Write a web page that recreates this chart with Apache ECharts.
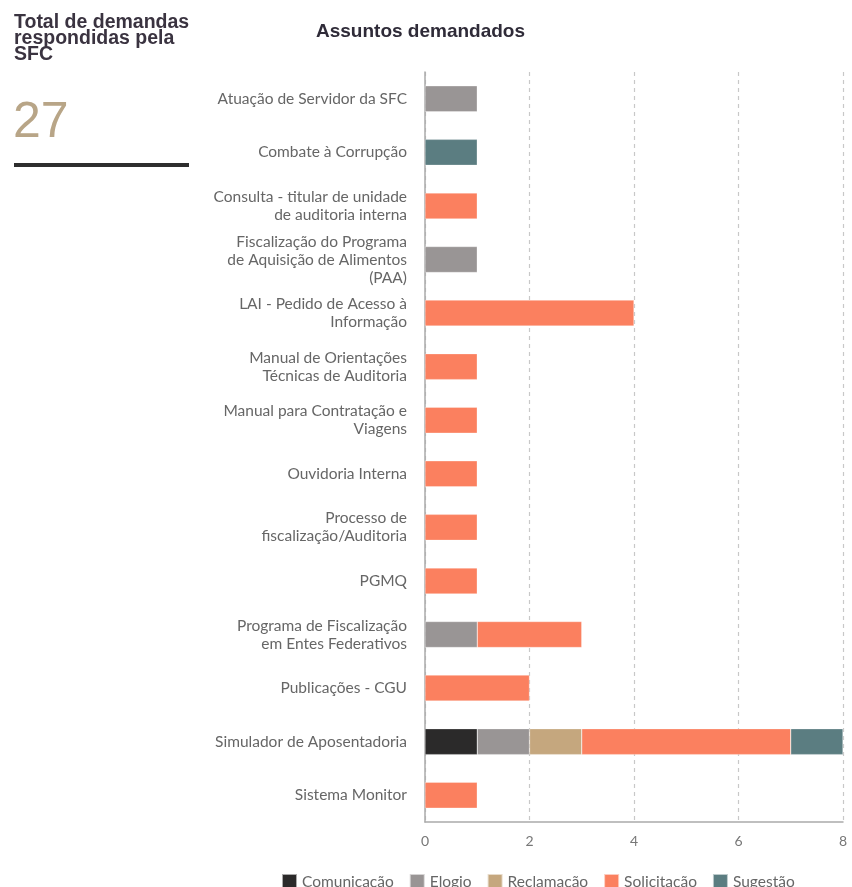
<!DOCTYPE html>
<html>
<head>
<meta charset="utf-8">
<script src="https://cdn.jsdelivr.net/npm/echarts@6/dist/echarts.min.js"></script>
<style>
  html, body { margin: 0; padding: 0; background: #fff; }
  #chart { width: 852px; height: 887px; }
</style>
</head>
<body>
<div id="chart"></div>
<script>
// Subjects (top to bottom)
const categories = [
  'Atuação de Servidor da SFC',
  'Combate à Corrupção',
  'Consulta - titular de unidade\nde auditoria interna',
  'Fiscalização do Programa\nde Aquisição de Alimentos\n(PAA)',
  'LAI - Pedido de Acesso à\nInformação',
  'Manual de Orientações\nTécnicas de Auditoria',
  'Manual para Contratação e\nViagens',
  'Ouvidoria Interna',
  'Processo de\nfiscalização/Auditoria',
  'PGMQ',
  'Programa de Fiscalização\nem Entes Federativos',
  'Publicações - CGU',
  'Simulador de Aposentadoria',
  'Sistema Monitor'
];

// Demand counts per type, one value per subject
const comunicacao = [0, 0, 0, 0, 0, 0, 0, 0, 0, 0, 0, 0, 1, 0];
const elogio      = [1, 0, 0, 1, 0, 0, 0, 0, 0, 0, 1, 0, 1, 0];
const reclamacao  = [0, 0, 0, 0, 0, 0, 0, 0, 0, 0, 0, 0, 1, 0];
const solicitacao = [0, 0, 1, 0, 4, 1, 1, 1, 1, 1, 2, 2, 4, 1];
const sugestao    = [0, 1, 0, 0, 0, 0, 0, 0, 0, 0, 0, 0, 1, 0];

const seriesNames = ['Comunicação', 'Elogio', 'Reclamação', 'Solicitação', 'Sugestão'];
const seriesData = [comunicacao, elogio, reclamacao, solicitacao, sugestao];
const colors = ['#2b2a2a', '#999595', '#c5a77e', '#fb805f', '#5b7d81'];

const total = seriesData.reduce((s, arr) => s + arr.reduce((a, b) => a + b, 0), 0);

const chart = echarts.init(document.getElementById('chart'), null, { renderer: 'canvas' });

chart.setOption({
  animation: false,
  color: colors,
  title: {
    text: 'Assuntos demandados',
    left: 311,
    top: 17,
    textStyle: {
      fontFamily: 'Liberation Sans',
      fontWeight: 'bold',
      fontSize: 19,
      color: '#2f2b38'
    }
  },
  graphic: [
    {
      type: 'text',
      left: 14,
      top: 13,
      style: {
        text: 'Total de demandas\nrespondidas pela\nSFC',
        font: 'bold 19.5px "Liberation Sans"',
        lineHeight: 16,
        fill: '#3a3340'
      }
    },
    {
      type: 'text',
      left: 13,
      top: 98,
      style: {
        text: String(total),
        font: '50px "Liberation Sans"',
        fill: '#b8a587'
      }
    },
    {
      type: 'rect',
      shape: { x: 14, y: 163, width: 175, height: 4 },
      style: { fill: '#2e2e2e' }
    }
  ],
  legend: {
    data: seriesNames,
    left: 276,
    bottom: -8,
    itemWidth: 15,
    itemHeight: 15,
    itemGap: 15,
    icon: 'rect',
    textStyle: { fontFamily: 'Lato', fontSize: 15.5, color: '#666' }
  },
  grid: {
    left: 425,
    right: 9,
    top: 72,
    bottom: 65,
    containLabel: false
  },
  xAxis: {
    type: 'value',
    min: 0,
    max: 8,
    interval: 2,
    axisLine: { show: true, lineStyle: { color: '#aaa', width: 1.5 } },
    axisTick: { show: false },
    axisLabel: { fontFamily: 'Lato', fontSize: 14, color: '#777', margin: 12 },
    splitLine: { show: true, lineStyle: { color: '#c8c8c8', type: [4, 4], width: 1.2 } }
  },
  yAxis: {
    type: 'category',
    data: categories,
    inverse: true,
    axisLine: { show: true, lineStyle: { color: '#aaa', width: 1.5 } },
    axisTick: { show: false },
    axisLabel: {
      fontFamily: 'Lato',
      fontSize: 15.5,
      color: '#666',
      lineHeight: 18,
      align: 'right',
      margin: 18
    }
  },
  series: seriesNames.map((name, i) => ({
    name: name,
    type: 'bar',
    stack: 'total',
    barWidth: 26,
    data: seriesData[i].map(v => (v === 0 ? null : v)),
    itemStyle: { color: colors[i], borderColor: 'rgba(255,255,255,0.6)', borderWidth: 0.5 }
  }))
});
</script>
</body>
</html>
